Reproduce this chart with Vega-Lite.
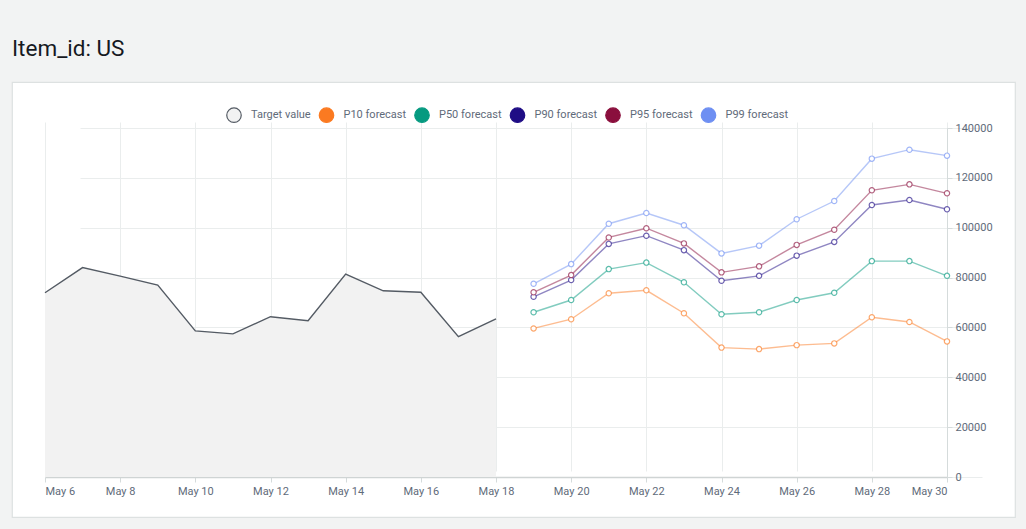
{
  "$schema": "https://vega.github.io/schema/vega-lite/v6.json",
  "width": 1003,
  "height": 435,
  "autosize": {"type": "none"},
  "padding": {"left": 12, "top": 82, "right": 11, "bottom": 12},
  "background": "#f2f3f3",
  "title": {"text": "Item_id: US", "anchor": "start", "frame": "group", "dx": 0, "fontSize": 22.5, "font": "Roboto", "fontWeight": "normal", "color": "#16191f", "offset": 22},
  "config": {
    "view": {"fill": "white", "stroke": "#dde1e1", "strokeWidth": 1.2},
    "font": "Roboto",
    "axis": {"zindex": 1, "gridColor": "#eaeded", "gridWidth": 1, "labelFont": "Roboto", "labelFontSize": 11, "labelColor": "#5f6b7a", "tickColor": "#d5dbdb", "domainColor": "#d5dbdb", "tickSize": 5, "labelPadding": 3, "title": null}
  },
  "datasets": {
    "rows": [
      {"date": "2023-05-06T00:00:00", "series": "Target value", "value": 73900},
      {"date": "2023-05-07T00:00:00", "series": "Target value", "value": 84000},
      {"date": "2023-05-08T00:00:00", "series": "Target value", "value": 80600},
      {"date": "2023-05-09T00:00:00", "series": "Target value", "value": 77000},
      {"date": "2023-05-10T00:00:00", "series": "Target value", "value": 58600},
      {"date": "2023-05-11T00:00:00", "series": "Target value", "value": 57400},
      {"date": "2023-05-12T00:00:00", "series": "Target value", "value": 64300},
      {"date": "2023-05-13T00:00:00", "series": "Target value", "value": 62700},
      {"date": "2023-05-14T00:00:00", "series": "Target value", "value": 81400},
      {"date": "2023-05-15T00:00:00", "series": "Target value", "value": 74700},
      {"date": "2023-05-16T00:00:00", "series": "Target value", "value": 74100},
      {"date": "2023-05-17T00:00:00", "series": "Target value", "value": 56300},
      {"date": "2023-05-18T00:00:00", "series": "Target value", "value": 63400},
      {"date": "2023-05-19T00:00:00", "series": "P10 forecast", "value": 59600},
      {"date": "2023-05-20T00:00:00", "series": "P10 forecast", "value": 63300},
      {"date": "2023-05-21T00:00:00", "series": "P10 forecast", "value": 73700},
      {"date": "2023-05-22T00:00:00", "series": "P10 forecast", "value": 74900},
      {"date": "2023-05-23T00:00:00", "series": "P10 forecast", "value": 65700},
      {"date": "2023-05-24T00:00:00", "series": "P10 forecast", "value": 51900},
      {"date": "2023-05-25T00:00:00", "series": "P10 forecast", "value": 51300},
      {"date": "2023-05-26T00:00:00", "series": "P10 forecast", "value": 52900},
      {"date": "2023-05-27T00:00:00", "series": "P10 forecast", "value": 53600},
      {"date": "2023-05-28T00:00:00", "series": "P10 forecast", "value": 64100},
      {"date": "2023-05-29T00:00:00", "series": "P10 forecast", "value": 62200},
      {"date": "2023-05-30T00:00:00", "series": "P10 forecast", "value": 54400},
      {"date": "2023-05-19T00:00:00", "series": "P50 forecast", "value": 66100},
      {"date": "2023-05-20T00:00:00", "series": "P50 forecast", "value": 71000},
      {"date": "2023-05-21T00:00:00", "series": "P50 forecast", "value": 83400},
      {"date": "2023-05-22T00:00:00", "series": "P50 forecast", "value": 86000},
      {"date": "2023-05-23T00:00:00", "series": "P50 forecast", "value": 78100},
      {"date": "2023-05-24T00:00:00", "series": "P50 forecast", "value": 65300},
      {"date": "2023-05-25T00:00:00", "series": "P50 forecast", "value": 66100},
      {"date": "2023-05-26T00:00:00", "series": "P50 forecast", "value": 71000},
      {"date": "2023-05-27T00:00:00", "series": "P50 forecast", "value": 73900},
      {"date": "2023-05-28T00:00:00", "series": "P50 forecast", "value": 86600},
      {"date": "2023-05-29T00:00:00", "series": "P50 forecast", "value": 86600},
      {"date": "2023-05-30T00:00:00", "series": "P50 forecast", "value": 80700},
      {"date": "2023-05-19T00:00:00", "series": "P90 forecast", "value": 72300},
      {"date": "2023-05-20T00:00:00", "series": "P90 forecast", "value": 79000},
      {"date": "2023-05-21T00:00:00", "series": "P90 forecast", "value": 93500},
      {"date": "2023-05-22T00:00:00", "series": "P90 forecast", "value": 96800},
      {"date": "2023-05-23T00:00:00", "series": "P90 forecast", "value": 91000},
      {"date": "2023-05-24T00:00:00", "series": "P90 forecast", "value": 78700},
      {"date": "2023-05-25T00:00:00", "series": "P90 forecast", "value": 80700},
      {"date": "2023-05-26T00:00:00", "series": "P90 forecast", "value": 88800},
      {"date": "2023-05-27T00:00:00", "series": "P90 forecast", "value": 94300},
      {"date": "2023-05-28T00:00:00", "series": "P90 forecast", "value": 109100},
      {"date": "2023-05-29T00:00:00", "series": "P90 forecast", "value": 111100},
      {"date": "2023-05-30T00:00:00", "series": "P90 forecast", "value": 107400},
      {"date": "2023-05-19T00:00:00", "series": "P95 forecast", "value": 74100},
      {"date": "2023-05-20T00:00:00", "series": "P95 forecast", "value": 81000},
      {"date": "2023-05-21T00:00:00", "series": "P95 forecast", "value": 96100},
      {"date": "2023-05-22T00:00:00", "series": "P95 forecast", "value": 99800},
      {"date": "2023-05-23T00:00:00", "series": "P95 forecast", "value": 93700},
      {"date": "2023-05-24T00:00:00", "series": "P95 forecast", "value": 82100},
      {"date": "2023-05-25T00:00:00", "series": "P95 forecast", "value": 84500},
      {"date": "2023-05-26T00:00:00", "series": "P95 forecast", "value": 93100},
      {"date": "2023-05-27T00:00:00", "series": "P95 forecast", "value": 99200},
      {"date": "2023-05-28T00:00:00", "series": "P95 forecast", "value": 115000},
      {"date": "2023-05-29T00:00:00", "series": "P95 forecast", "value": 117400},
      {"date": "2023-05-30T00:00:00", "series": "P95 forecast", "value": 113800},
      {"date": "2023-05-19T00:00:00", "series": "P99 forecast", "value": 77500},
      {"date": "2023-05-20T00:00:00", "series": "P99 forecast", "value": 85400},
      {"date": "2023-05-21T00:00:00", "series": "P99 forecast", "value": 101600},
      {"date": "2023-05-22T00:00:00", "series": "P99 forecast", "value": 105900},
      {"date": "2023-05-23T00:00:00", "series": "P99 forecast", "value": 101000},
      {"date": "2023-05-24T00:00:00", "series": "P99 forecast", "value": 89700},
      {"date": "2023-05-25T00:00:00", "series": "P99 forecast", "value": 92800},
      {"date": "2023-05-26T00:00:00", "series": "P99 forecast", "value": 103400},
      {"date": "2023-05-27T00:00:00", "series": "P99 forecast", "value": 110700},
      {"date": "2023-05-28T00:00:00", "series": "P99 forecast", "value": 127700},
      {"date": "2023-05-29T00:00:00", "series": "P99 forecast", "value": 131300},
      {"date": "2023-05-30T00:00:00", "series": "P99 forecast", "value": 128900}
    ]
  },
  "data": {"name": "rows"},
  "encoding": {
    "x": {
      "field": "date", "type": "temporal",
      "scale": {"domain": [{"year": 2023, "month": 5, "date": 6}, {"year": 2023, "month": 5, "date": 30}], "nice": false, "range": [33, 935]},
      "axis": {
        "offset": -40,
        "format": "%b %-d", "labelAngle": 0, "domainWidth": 1.5, "domainColor": "#cfd4d4",
        "values": [
          {"year": 2023, "month": 5, "date": 6}, {"year": 2023, "month": 5, "date": 8}, {"year": 2023, "month": 5, "date": 10},
          {"year": 2023, "month": 5, "date": 12}, {"year": 2023, "month": 5, "date": 14}, {"year": 2023, "month": 5, "date": 16},
          {"year": 2023, "month": 5, "date": 18}, {"year": 2023, "month": 5, "date": 20}, {"year": 2023, "month": 5, "date": 22},
          {"year": 2023, "month": 5, "date": 24}, {"year": 2023, "month": 5, "date": 26}, {"year": 2023, "month": 5, "date": 28},
          {"year": 2023, "month": 5, "date": 30}
        ]
      }
    },
    "y": {
      "field": "value", "type": "quantitative",
      "scale": {"domain": [0, 140000], "nice": false, "zero": true, "range": [395, 46]},
      "axis": {"orient": "right", "offset": -68, "values": [0, 20000, 40000, 60000, 80000, 100000, 120000, 140000], "format": "d"}
    }
  },
  "layer": [
    {
      "transform": [{"filter": "datum.series === 'Target value'"}],
      "mark": {"type": "area", "opacity": 1},
      "encoding": {
        "fill": {
          "field": "series", "type": "nominal",
          "scale": {
            "domain": ["Target value", "P10 forecast", "P50 forecast", "P90 forecast", "P95 forecast", "P99 forecast"],
            "range": ["#f2f2f2", "#fb7a21", "#069a80", "#1f0d85", "#8a0f3d", "#6e8ff2"]
          },
          "legend": {
            "title": null, "orient": "none", "legendX": 214, "legendY": 25, "direction": "horizontal",
            "symbolType": "circle", "symbolSize": 210, "symbolOpacity": 1, "labelFont": "Roboto", "labelFontSize": 11,
            "labelColor": "#5f6b7a", "labelOffset": 9, "columnPadding": 5.5, "padding": 0,
            "encode": {"symbols": {"update": {"stroke": {"signal": "datum.value === 'Target value' ? '#545b64' : 'transparent'"}, "strokeWidth": {"value": 1.2}}}}
          }
        }
      }
    },
    {
      "mark": {"type": "line", "strokeWidth": 1.4},
      "encoding": {
        "color": {
          "field": "series", "type": "nominal",
          "scale": {
            "domain": ["Target value", "P10 forecast", "P50 forecast", "P90 forecast", "P95 forecast", "P99 forecast"],
            "range": ["#545b64", "#fb7a21", "#069a80", "#1f0d85", "#8a0f3d", "#6e8ff2"]
          },
          "legend": null
        },
        "opacity": {"condition": {"test": "datum.series === 'Target value'", "value": 1}, "value": 0.5}
      }
    },
    {
      "transform": [{"filter": "datum.series !== 'Target value'"}],
      "mark": {"type": "point", "filled": false, "fill": "white", "fillOpacity": 1, "size": 28, "strokeWidth": 1.2, "strokeOpacity": 0.65, "opacity": 1},
      "encoding": {
        "color": {"field": "series", "type": "nominal", "legend": null}
      }
    }
  ]
}
